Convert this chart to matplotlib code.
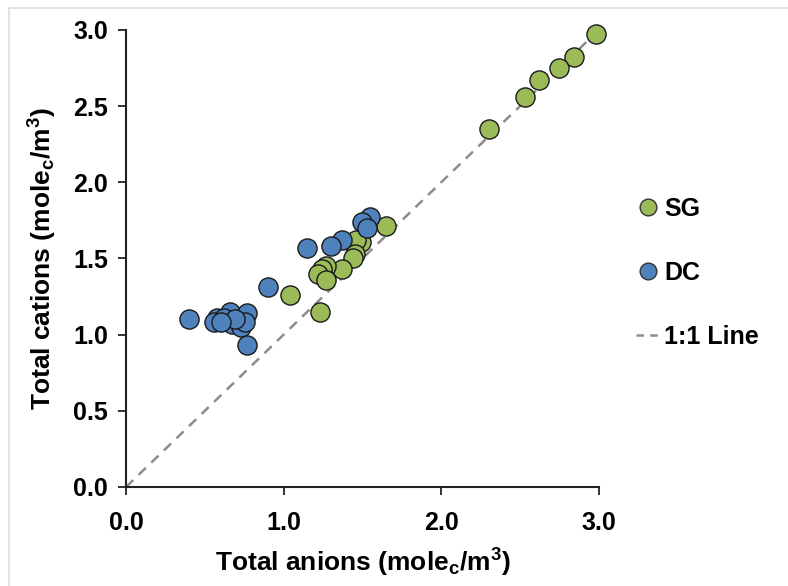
import matplotlib
matplotlib.use('Agg')
import matplotlib.pyplot as plt
from matplotlib.lines import Line2D
from matplotlib.font_manager import fontManager

# values
sg_anions = [2.98, 2.84, 2.75, 2.62, 2.53, 2.30, 1.65, 1.49, 1.46, 1.45, 1.44,
             1.37, 1.27, 1.24, 1.22, 1.27, 1.04, 1.23]
sg_cations = [2.97, 2.82, 2.75, 2.67, 2.56, 2.35, 1.71, 1.61, 1.62, 1.53, 1.50,
              1.43, 1.45, 1.43, 1.40, 1.36, 1.26, 1.15]
dc_anions = [1.55, 1.50, 1.53, 1.37, 1.30, 1.15, 0.90, 0.40, 0.575, 0.56, 0.66,
             0.765, 0.62, 0.67, 0.73, 0.755, 0.69, 0.60, 0.77]
dc_cations = [1.77, 1.74, 1.70, 1.62, 1.58, 1.57, 1.31, 1.10, 1.11, 1.08, 1.15,
              1.14, 1.11, 1.07, 1.05, 1.08, 1.10, 1.08, 0.93]
ticks_x = [0.0, 1.0, 2.0, 3.0]
ticks_y = [0.0, 0.5, 1.0, 1.5, 2.0, 2.5, 3.0]

names = {f.name for f in fontManager.ttflist}
main_font = 'Liberation Sans' if 'Liberation Sans' in names else 'DejaVu Sans'
narrow_font = 'Liberation Sans Narrow' if 'Liberation Sans Narrow' in names else main_font
plt.rcParams['font.family'] = [main_font, 'DejaVu Sans']
plt.rcParams['mathtext.default'] = 'regular'

green = '#9BBB59'
blue = '#4F81BD'

fig = plt.figure(figsize=(7.88, 5.86), dpi=100)
ax = fig.add_axes([0.160, 0.169, 0.600, 0.780])

ax.plot([0, 3], [0, 3], linestyle=(0, (4, 3)), color='#8c8c8c', lw=1.8, zorder=1)
ax.scatter(sg_anions, sg_cations, s=190, c=green, edgecolors='#1a1a1a',
           linewidths=1.0, zorder=3, clip_on=False)
ax.scatter(dc_anions, dc_cations, s=190, c=blue, edgecolors='#1a1a1a',
           linewidths=1.0, zorder=3, clip_on=False)

ax.set_xlim(0, 3)
ax.set_ylim(0, 3)
ax.set_xticks(ticks_x)
ax.set_yticks(ticks_y)
ax.set_xticklabels([f'{v:.1f}' for v in ticks_x], fontsize=18, fontweight='bold',
                   family=narrow_font)
ax.set_yticklabels([f'{v:.1f}' for v in ticks_y], fontsize=18, fontweight='bold')
ax.tick_params(axis='both', direction='out', length=6, width=1.3, color='#222222')
ax.tick_params(axis='y', pad=7)
ax.tick_params(axis='x', pad=11)
for s in ['top', 'right']:
    ax.spines[s].set_visible(False)
for s in ['left', 'bottom']:
    ax.spines[s].set_linewidth(1.5)
    ax.spines[s].set_color('#222222')

ax.set_xlabel(r'Total anions (mole$_{c}$/m$^{3}$)', fontsize=19, fontweight='bold',
              family=narrow_font, labelpad=9)
ax.set_ylabel(r'Total cations (mole$_{c}$/m$^{3}$)', fontsize=19, fontweight='bold',
              labelpad=10)

handles = [
    Line2D([], [], marker='o', ls='none', markersize=12, markerfacecolor=green,
           markeredgecolor='#333333', markeredgewidth=1.0),
    Line2D([], [], marker='o', ls='none', markersize=12, markerfacecolor=blue,
           markeredgecolor='#333333', markeredgewidth=1.0),
    Line2D([], [], ls=(0, (3, 2.5)), color='#8c8c8c', lw=1.8),
]
leg = fig.legend(handles, ['SG', 'DC', '1:1 Line'], loc='upper left',
                 bbox_to_anchor=(0.778, 0.702), frameon=False, labelspacing=1.6,
                 handlelength=1.0, handletextpad=0.15,
                 prop={'size': 18, 'weight': 'bold'})

# faint picture border seen at top and left
fig.add_artist(Line2D([0.012, 1.0], [0.986, 0.986], color='#dddddd', lw=1.2))
fig.add_artist(Line2D([0.012, 0.012], [0.0, 0.986], color='#dddddd', lw=1.2))

fig.savefig('out.png', dpi=100)
